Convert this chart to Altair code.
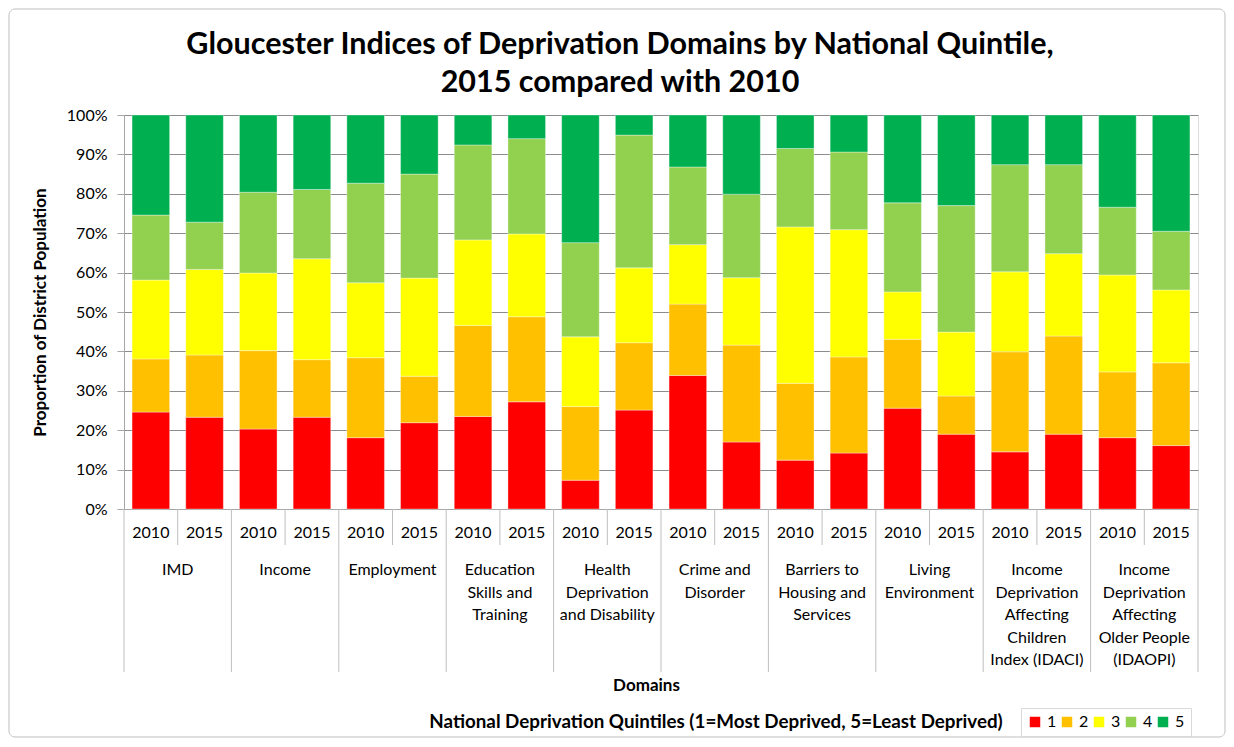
import altair as alt
import pandas as pd

FONT = "Lato"

domains = [
    "IMD", "Income", "Employment", "Education\nSkills and\nTraining",
    "Health\nDeprivation\nand Disability", "Crime and\nDisorder",
    "Barriers to\nHousing and\nServices", "Living\nEnvironment",
    "Income\nDeprivation\nAffecting\nChildren\nIndex (IDACI)",
    "Income\nDeprivation\nAffecting\nOlder People\n(IDAOPI)",
]
years = ["2010", "2015"]
quintiles = ["1", "2", "3", "4", "5"]
colors = ["#FF0000", "#FFC000", "#FFFF00", "#92D050", "#00B050"]

# percent of district population, order: domain x (2010, 2015)
q1 = [24.6, 23.3, 20.3, 23.3, 18.1, 21.9, 23.5, 27.2, 7.3, 25.1,
      33.9, 17.0, 12.4, 14.2, 25.6, 19.0, 14.5, 19.0, 18.1, 16.1]
q2 = [13.5, 15.8, 19.9, 14.6, 20.3, 11.8, 23.1, 21.6, 18.7, 17.1,
      18.1, 24.6, 19.5, 24.4, 17.5, 9.7, 25.4, 24.9, 16.7, 21.0]
q3 = [20.0, 21.7, 19.7, 25.6, 19.0, 24.9, 21.7, 21.0, 17.7, 19.0,
      15.1, 17.1, 39.7, 32.3, 12.0, 16.2, 20.3, 20.9, 24.6, 18.5]
q4 = [16.5, 12.0, 20.5, 17.6, 25.3, 26.4, 24.1, 24.2, 23.9, 33.7,
      19.7, 21.2, 19.9, 19.7, 22.6, 32.1, 27.2, 22.6, 17.2, 14.9]
q5 = [25.4, 27.2, 19.6, 18.9, 17.3, 15.0, 7.6, 6.0, 32.4, 5.1,
      13.2, 20.1, 8.5, 9.4, 22.3, 23.0, 12.6, 12.6, 23.4, 29.5]
series = [q1, q2, q3, q4, q5]

title_lines = ["Gloucester Indices of Deprivation Domains by National Quintile,",
               "2015 compared with 2010"]
legend_title_text = "National Deprivation Quintiles (1=Most Deprived, 5=Least Deprived)"

rows = []
for qi, vals in enumerate(series):
    for i, v in enumerate(vals):
        rows.append({"idx": i, "domain": domains[i // 2], "year": years[i % 2],
                     "q": quintiles[qi], "qn": qi, "value": v})
df = pd.DataFrame(rows)

df_years = pd.DataFrame([{"idx": i, "year": years[i % 2]} for i in range(20)])
df_dom = pd.DataFrame([{"mid": 2 * d + 0.5, "label": domains[d]} for d in range(10)])
df_short = pd.DataFrame([{"pos": 2 * d + 0.5} for d in range(10)])
df_long = pd.DataFrame([{"pos": 2 * d - 0.5} for d in range(11)])

W, H = 1074, 394
xscale = alt.Scale(domain=[-0.5, 19.5], nice=False, zero=False, padding=0)

bars = alt.Chart(df).transform_calculate(
    x0="datum.idx - 0.35", x1="datum.idx + 0.35"
).mark_bar(orient="vertical", stroke="#ffffff", strokeOpacity=0.35, strokeWidth=1).encode(
    x=alt.X("x0:Q", scale=xscale,
            axis=alt.Axis(labels=False, ticks=False, grid=False, domain=True,
                          domainColor="#a6a6a6", title="Domains",
                          titleFont=FONT, titleFontSize=17, titleFontWeight="bold",
                          titleColor="#000000", titlePadding=168, titleX=522)),
    x2="x1:Q",
    y=alt.Y("value:Q", stack="normalize",
            scale=alt.Scale(domain=[0, 1], padding=0, nice=False),
            axis=alt.Axis(format="%", values=[i / 10 for i in range(11)],
                          grid=True, gridColor="#8c8c8c", domainColor="#a6a6a6",
                          tickColor="#a6a6a6", tickSize=7, labelPadding=10,
                          labelFont=FONT, labelFontSize=16, labelColor="#000000",
                          title="Proportion of District Population",
                          titleFont=FONT, titleFontSize=17, titleFontWeight="bold",
                          titleColor="#000000", titlePadding=17)),
    color=alt.Color("q:N", scale=alt.Scale(domain=quintiles, range=colors),
                    legend=alt.Legend(orient="none", legendX=897, legendY=593,
                                      direction="horizontal", title=None,
                                      symbolType="square", symbolSize=110,
                                      symbolStrokeWidth=0, labelFont=FONT,
                                      labelFontSize=16, labelColor="#000000",
                                      labelOffset=4, columnPadding=2,
                                      strokeColor="#d9d9d9", padding=6)),
    order=alt.Order("qn:Q", sort="ascending"),
)

year_text = alt.Chart(df_years).mark_text(
    font=FONT, fontSize=16, baseline="middle", align="center", color="#000000"
).encode(x=alt.X("idx:Q", scale=xscale), y=alt.value(H + 24), text="year:N")

dom_text = alt.Chart(df_dom).mark_text(
    font=FONT, fontSize=16, baseline="top", align="center", color="#000000",
    lineBreak="\n", lineHeight=22.5
).encode(x=alt.X("mid:Q", scale=xscale), y=alt.value(H + 53), text="label:N")

short_sep = alt.Chart(df_short).mark_rule(color="#bfbfbf", strokeWidth=1).encode(
    x=alt.X("pos:Q", scale=xscale), y=alt.value(H), y2=alt.value(H + 36))

long_sep = alt.Chart(df_long).mark_rule(color="#bfbfbf", strokeWidth=1).encode(
    x=alt.X("pos:Q", scale=xscale), y=alt.value(H), y2=alt.value(H + 163))

one = pd.DataFrame([{"a": 1}])

legend_title = alt.Chart(one).mark_text(
    font=FONT, fontSize=18.8, fontWeight="bold", align="center", baseline="middle",
    color="#000000", text=legend_title_text
).encode(x=alt.value(592), y=alt.value(607))

title1 = alt.Chart(one).mark_text(
    font=FONT, fontSize=30.5, fontWeight="bold", align="center", baseline="middle",
    color="#000000", text=title_lines[0]
).encode(x=alt.value(496), y=alt.value(-70))

title2 = alt.Chart(one).mark_text(
    font=FONT, fontSize=30.5, fontWeight="bold", align="center", baseline="middle",
    color="#000000", text=title_lines[1]
).encode(x=alt.value(496), y=alt.value(-32))

border = alt.Chart(one).mark_rect(
    fill="transparent", stroke="#bfbfbf", strokeWidth=1, cornerRadius=6
).encode(x=alt.value(-115), x2=alt.value(1101), y=alt.value(-106), y2=alt.value(622))

chart = alt.layer(border, bars, short_sep, long_sep, year_text, dom_text,
                  legend_title, title1, title2).properties(
    width=W, height=H,
    autosize=alt.AutoSizeParams(type="none"),
    padding={"left": 116, "top": 107, "right": 28, "bottom": 230},
).configure_view(strokeWidth=0).configure(background="#ffffff")

chart.save("out.html", embed_options={"renderer": "svg", "actions": False})
